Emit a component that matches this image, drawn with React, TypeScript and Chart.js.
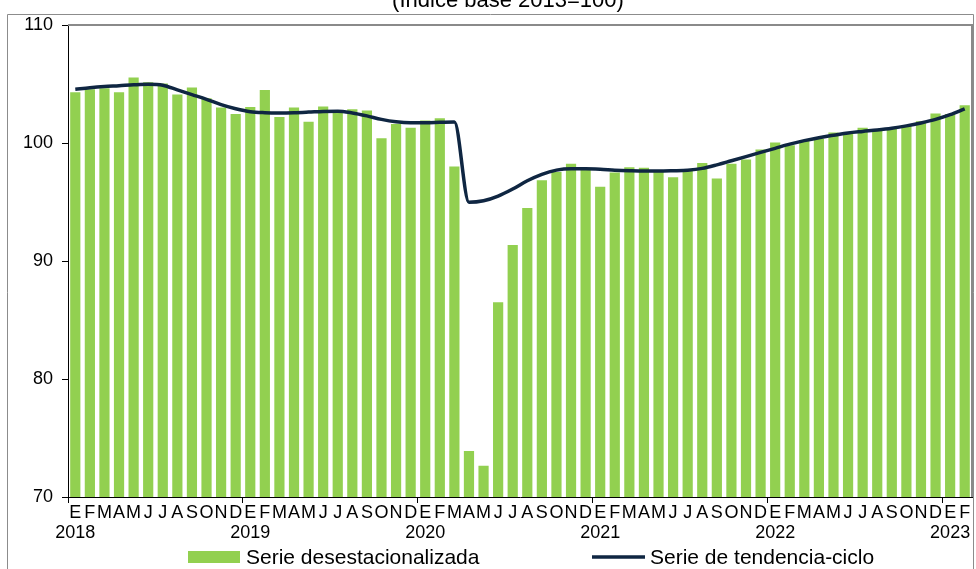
import React, { useEffect, useRef } from "react";
import { Chart, registerables } from "chart.js";

Chart.register(...registerables);

const monthLetters = ["E", "F", "M", "A", "M", "J", "J", "A", "S", "O", "N", "D"];
const years = ["2018", "2019", "2020", "2021", "2022", "2023"];
const monthCount = 62;

const serieDesestacionalizada = [
  104.3, 104.55, 104.65, 104.3, 105.55, 105.15, 105.05, 104.1, 104.7, 103.8, 103.0, 102.45,
  103.05, 104.5, 102.2, 103.0, 101.8, 103.1, 102.75, 102.85, 102.75, 100.4, 101.6, 101.3,
  101.9, 102.1, 98.0, 73.9, 72.65, 86.5, 91.35, 94.5, 96.85, 97.55, 98.25, 97.75,
  96.3, 97.5, 97.95, 97.9, 97.6, 97.1, 97.7, 98.3, 97.0, 98.25, 98.6, 99.45,
  100.05, 99.8, 100.25, 100.35, 100.9, 100.8, 101.3, 101.1, 101.2, 101.5, 101.85, 102.5,
  102.45, 103.2,
];

const serieTendencia = [
  104.55, 104.68, 104.78, 104.85, 104.93, 104.98, 104.9, 104.5, 104.1, 103.7, 103.25, 102.9,
  102.65, 102.57, 102.55, 102.57, 102.62, 102.68, 102.7, 102.55, 102.3, 102.0, 101.8, 101.72,
  101.72, 101.75, 101.78, 94.97, 95.1, 95.5, 96.1, 96.8, 97.35, 97.7, 97.82, 97.82,
  97.78, 97.7, 97.65, 97.62, 97.62, 97.65, 97.7, 97.85, 98.15, 98.5, 98.85, 99.2,
  99.55, 99.9, 100.2, 100.45, 100.65, 100.85, 100.98, 101.1, 101.25, 101.45, 101.7, 102.0,
  102.4, 102.9,
];

const yTicks = [70, 80, 90, 100, 110];
const titleText = "(Índice base 2013=100)";
const legendBars = "Serie desestacionalizada";
const legendLine = "Serie de tendencia-ciclo";

const labels: string[][] = [];
for (let i = 0; i < monthCount; i++) {
  const m = i % 12;
  labels.push([monthLetters[m], m === 0 ? years[Math.floor(i / 12)] : ""]);
}

const GREEN = "#92D050";
const NAVY = "#0F2642";
const FONT = "'Liberation Sans', Arial, sans-serif";

const decorPlugin = {
  id: "decor",
  beforeDraw(chart: any) {
    const ctx = chart.ctx;
    ctx.save();
    ctx.fillStyle = "#ffffff";
    ctx.fillRect(0, 0, chart.width, chart.height);
    ctx.restore();
  },
  afterDraw(chart: any) {
    const ctx = chart.ctx;
    const a = chart.chartArea;
    ctx.save();
    // outer frame
    ctx.strokeStyle = "#8c8c8c";
    ctx.lineWidth = 1;
    ctx.beginPath();
    ctx.moveTo(7.5, chart.height + 2);
    ctx.lineTo(7.5, 14.5);
    ctx.lineTo(973.5, 14.5);
    ctx.lineTo(973.5, chart.height + 2);
    ctx.stroke();
    // plot top / right border
    ctx.strokeStyle = "#8a8a8a";
    ctx.lineWidth = 2;
    ctx.beginPath();
    ctx.moveTo(a.left, a.top);
    ctx.lineTo(a.right, a.top);
    ctx.lineTo(a.right, a.bottom);
    ctx.stroke();
    // title (partly cut at the top, as in the original)
    ctx.fillStyle = "#000";
    ctx.font = `22px ${FONT}`;
    ctx.textAlign = "center";
    ctx.textBaseline = "alphabetic";
    ctx.fillText(titleText, 508, 7);
    // legend
    ctx.font = `21px ${FONT}`;
    ctx.textAlign = "left";
    ctx.textBaseline = "middle";
    ctx.fillStyle = GREEN;
    ctx.fillRect(188, 551, 52, 12);
    ctx.fillStyle = "#000";
    ctx.fillText(legendBars, 246, 558);
    ctx.strokeStyle = NAVY;
    ctx.lineWidth = 3.5;
    ctx.beginPath();
    ctx.moveTo(592, 557);
    ctx.lineTo(645, 557);
    ctx.stroke();
    ctx.fillStyle = "#000";
    ctx.fillText(legendLine, 650, 558);
    ctx.restore();
  },
};

export default function App() {
  const ref = useRef<HTMLCanvasElement | null>(null);

  useEffect(() => {
    if (!ref.current) return;
    const chart = new Chart(ref.current, {
      type: "bar",
      data: {
        labels,
        datasets: [
          {
            type: "line",
            label: legendLine,
            data: serieTendencia,
            borderColor: NAVY,
            borderWidth: 3.5,
            pointRadius: 0,
            fill: false,
            cubicInterpolationMode: "monotone",
            order: 0,
          } as any,
          {
            type: "bar",
            label: legendBars,
            data: serieDesestacionalizada,
            backgroundColor: GREEN,
            borderWidth: 0,
            barPercentage: 0.7,
            categoryPercentage: 1,
            order: 1,
          } as any,
        ],
      },
      options: {
        animation: false,
        responsive: false,
        maintainAspectRatio: false,
        layout: { padding: { left: 0, top: 25, right: 4, bottom: 0 } },
        plugins: {
          legend: { display: false },
          title: { display: false },
          tooltip: { enabled: false },
        },
        scales: {
          x: {
            type: "category",
            offset: true,
            grid: {
              offset: true,
              drawOnChartArea: false,
              drawTicks: true,
              tickLength: 6,
              color: (c: any) => (c.index % 12 === 0 ? "#000" : "rgba(0,0,0,0)"),
              lineWidth: 1,
            },
            border: { display: true, color: "#000", width: 1 },
            ticks: {
              autoSkip: false,
              maxRotation: 0,
              minRotation: 0,
              padding: 0,
              color: "#000",
              font: { family: FONT, size: 18, lineHeight: 1.12 },
            },
            afterFit: (s: any) => {
              s.height = 72;
            },
          },
          y: {
            min: 70,
            max: 110,
            afterBuildTicks: (s: any) => {
              s.ticks = yTicks.map((v) => ({ value: v }));
            },
            grid: {
              drawOnChartArea: false,
              drawTicks: true,
              tickLength: 6,
              color: "#000",
            },
            border: { display: true, color: "#000", width: 1 },
            ticks: {
              padding: 9,
              color: "#000",
              font: { family: FONT, size: 18 },
            },
            afterFit: (s: any) => {
              s.width = 68;
            },
          },
        },
      },
      plugins: [decorPlugin],
    });
    return () => chart.destroy();
  }, []);

  return (
    <div style={{ position: "fixed", left: 0, top: 0, width: 976, height: 569 }}>
      <canvas ref={ref} width={976} height={569} style={{ width: 976, height: 569, display: "block" }} />
    </div>
  );
}
